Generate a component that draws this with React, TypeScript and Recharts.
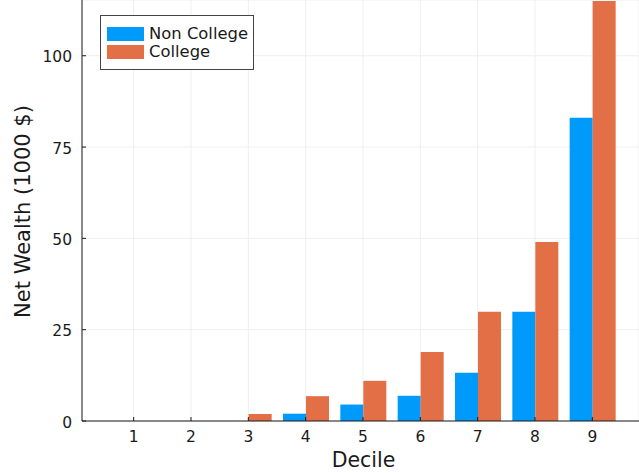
import React from 'react';
import { BarChart, Bar, XAxis, YAxis, CartesianGrid, Legend, Label } from 'recharts';

const deciles = ['1', '2', '3', '4', '5', '6', '7', '8', '9'];
const nonCollege = [0, 0, 0, 2.0, 4.5, 6.9, 13.2, 29.9, 83.0];
const college = [0, 0, 1.9, 6.8, 11.0, 18.9, 29.9, 49.0, 115.0];
const yTicks = [0, 25, 50, 75, 100];
const seriesNames = ['Non College', 'College'];
const seriesColors = ['#009AFA', '#E36F47'];
const xTitle = 'Decile';
const yTitle = 'Net Wealth (1000 $)';

const data = deciles.map((d, i) => ({ decile: d, nonCollege: nonCollege[i], college: college[i] }));

const FONT = '"DejaVu Sans", sans-serif';
const INK = '#1a1a1a';

const XTick = (props: any) => {
  const { x, y, payload } = props;
  return (
    <g>
      <line x1={x} x2={x} y1={y} y2={y - 4} stroke={INK} strokeWidth={1} />
      <text x={x} y={y + 21} textAnchor="middle" fontSize={15.5} fill={INK} fontFamily={FONT}>
        {payload.value}
      </text>
    </g>
  );
};

const YTick = (props: any) => {
  const { x, y, payload } = props;
  return (
    <g>
      <line x1={x} x2={x + 4} y1={y} y2={y} stroke={INK} strokeWidth={1} />
      <text x={x - 10} y={y + 6.5} textAnchor="end" fontSize={15.5} fill={INK} fontFamily={FONT}>
        {payload.value}
      </text>
    </g>
  );
};

const LegendBox = () => (
  <div
    style={{
      width: 154,
      height: 55,
      boxSizing: 'border-box',
      border: '1px solid #444',
      background: '#fff',
      paddingTop: 9,
      fontFamily: FONT,
      fontSize: 16.4,
      color: INK,
    }}
  >
    {seriesNames.map((n, i) => (
      <div key={n} style={{ display: 'flex', alignItems: 'center', height: 18, lineHeight: '18px', whiteSpace: 'nowrap' }}>
        <div style={{ width: 37, height: 14, marginLeft: 6, marginRight: 5, background: seriesColors[i], flex: 'none' }} />
        <span>{n}</span>
      </div>
    ))}
  </div>
);

export default function App() {
  return (
    <div style={{ position: 'absolute', left: 0, top: 0, width: 639, height: 473, background: '#fff' }}>
      <BarChart
        width={639}
        height={473}
        data={data}
        margin={{ top: 0, right: 0, bottom: 0, left: 0 }}
        barGap={0}
        barCategoryGap={5}
      >
        <CartesianGrid stroke="#efefef" strokeWidth={1} />
        <XAxis
          dataKey="decile"
          height={52}
          padding={{ left: 23, right: 18 }}
          tickSize={0}
          tickMargin={0}
          tickLine={false}
          axisLine={{ stroke: INK }}
          tick={<XTick />}
          interval={0}
        >
          <Label
            content={(p: any) => {
              const vb = p.viewBox;
              return (
                <text
                  x={vb.x + vb.width / 2 + 3}
                  y={vb.y + 46}
                  textAnchor="middle"
                  fontSize={20.5}
                  fill={INK}
                  fontFamily={FONT}
                >
                  {xTitle}
                </text>
              );
            }}
          />
        </XAxis>
        <YAxis
          width={82}
          domain={[0, 115.26]}
          ticks={yTicks}
          allowDataOverflow
          tickSize={0}
          tickMargin={0}
          tickLine={false}
          axisLine={{ stroke: INK }}
          tick={<YTick />}
        >
          <Label
            content={(p: any) => {
              const vb = p.viewBox;
              const cx = vb.x + 29.5;
              const cy = vb.y + vb.height / 2 + 1;
              return (
                <text
                  x={cx}
                  y={cy}
                  transform={`rotate(-90 ${cx} ${cy})`}
                  textAnchor="middle"
                  fontSize={21}
                  fill={INK}
                  fontFamily={FONT}
                >
                  {yTitle}
                </text>
              );
            }}
          />
        </YAxis>
        <Legend
          layout="horizontal"
          verticalAlign="middle"
          align="center"
          content={<LegendBox />}
          wrapperStyle={{ left: 100, top: 15, width: 'auto', height: 'auto' }}
        />
        <Bar dataKey="nonCollege" name={seriesNames[0]} fill={seriesColors[0]} barSize={23} isAnimationActive={false} />
        <Bar dataKey="college" name={seriesNames[1]} fill={seriesColors[1]} barSize={23} isAnimationActive={false} />
      </BarChart>
    </div>
  );
}
